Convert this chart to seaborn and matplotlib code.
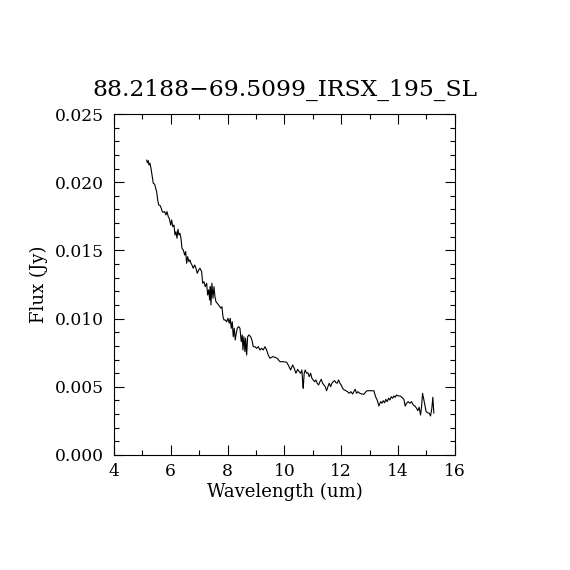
import pandas as pd
import matplotlib
matplotlib.use("Agg")
import matplotlib.pyplot as plt
from matplotlib.ticker import MultipleLocator
import seaborn as sns

title = "88.2188\u221269.5099_IRSX_195_SL"

wavelength = [
    5.151, 5.172, 5.207, 5.232, 5.267, 5.302, 5.337, 5.362, 5.383, 5.432,
    5.453, 5.502, 5.538, 5.573, 5.619, 5.664, 5.700, 5.735, 5.784, 5.830,
    5.865, 5.911, 5.946, 5.995, 6.030, 6.066, 6.111, 6.146, 6.182, 6.217,
    6.252, 6.287, 6.322, 6.358, 6.393, 6.439, 6.488, 6.523, 6.558, 6.593,
    6.639, 6.674, 6.710, 6.745, 6.790, 6.840, 6.885, 6.931, 6.980, 7.026,
    7.086, 7.121, 7.167, 7.213, 7.262, 7.297, 7.332, 7.368, 7.389, 7.413,
    7.448, 7.484, 7.519, 7.554, 7.589, 7.635, 7.684, 7.730, 7.765, 7.800,
    7.836, 7.871, 7.917, 7.966, 8.012, 8.057, 8.092, 8.128, 8.163, 8.198,
    8.233, 8.268, 8.304, 8.339, 8.388, 8.434, 8.479, 8.515, 8.539, 8.574,
    8.610, 8.634, 8.670, 8.705, 8.751, 8.810, 8.856, 8.902, 8.962, 9.021,
    9.078, 9.138, 9.197, 9.254, 9.314, 9.373, 9.430, 9.490, 9.585, 9.665,
    9.746, 9.841, 9.957, 10.077, 10.133, 10.218, 10.288, 10.344, 10.404, 10.464,
    10.520, 10.570, 10.615, 10.640, 10.661, 10.696, 10.731, 10.781, 10.827, 10.873,
    10.922, 10.968, 11.014, 11.063, 11.108, 11.154, 11.203, 11.249, 11.295, 11.344,
    11.390, 11.436, 11.485, 11.531, 11.577, 11.626, 11.671, 11.717, 11.766, 11.812,
    11.858, 11.907, 11.953, 11.999, 12.048, 12.104, 12.164, 12.224, 12.280, 12.340,
    12.400, 12.445, 12.491, 12.540, 12.586, 12.656, 12.727, 12.797, 12.868, 12.913,
    13.008, 13.149, 13.209, 13.265, 13.325, 13.385, 13.431, 13.476, 13.526, 13.571,
    13.617, 13.666, 13.712, 13.758, 13.807, 13.853, 13.898, 13.948, 13.994, 14.064,
    14.134, 14.205, 14.251, 14.300, 14.356, 14.416, 14.476, 14.532, 14.592, 14.652,
    14.697, 14.743, 14.792, 14.828, 14.863, 14.898, 14.944, 14.990, 15.039, 15.095,
    15.144, 15.190, 15.225, 15.260,
]

flux = [
    0.02163, 0.02143, 0.02158, 0.02126, 0.02139, 0.02102, 0.02053, 0.02016, 0.01992, 0.01985,
    0.01967, 0.01930, 0.01870, 0.01833, 0.01830, 0.01809, 0.01784, 0.01779, 0.01784, 0.01760,
    0.01784, 0.01747, 0.01735, 0.01686, 0.01723, 0.01674, 0.01686, 0.01613, 0.01637, 0.01589,
    0.01655, 0.01613, 0.01625, 0.01589, 0.01515, 0.01503, 0.01466, 0.01491, 0.01405, 0.01454,
    0.01417, 0.01430, 0.01405, 0.01393, 0.01369, 0.01393, 0.01369, 0.01332, 0.01356, 0.01369,
    0.01344, 0.01259, 0.01271, 0.01234, 0.01259, 0.01173, 0.01210, 0.01136, 0.01234, 0.01100,
    0.01259, 0.01149, 0.01234, 0.01161, 0.01124, 0.01112, 0.01100, 0.01087, 0.01076, 0.01087,
    0.01014, 0.00990, 0.00990, 0.00977, 0.01002, 0.00966, 0.01002, 0.00929, 0.00977, 0.00867,
    0.00929, 0.00843, 0.00892, 0.00929, 0.00941, 0.00929, 0.00831, 0.00880, 0.00770, 0.00867,
    0.00757, 0.00856, 0.00733, 0.00867, 0.00880, 0.00867, 0.00843, 0.00794, 0.00794, 0.00782,
    0.00794, 0.00770, 0.00782, 0.00770, 0.00794, 0.00770, 0.00733, 0.00709, 0.00721, 0.00716,
    0.00709, 0.00684, 0.00684, 0.00680, 0.00660, 0.00623, 0.00660, 0.00636, 0.00599, 0.00628,
    0.00611, 0.00599, 0.00623, 0.00537, 0.00489, 0.00599, 0.00623, 0.00599, 0.00603, 0.00574,
    0.00599, 0.00562, 0.00550, 0.00537, 0.00550, 0.00526, 0.00513, 0.00537, 0.00555, 0.00526,
    0.00513, 0.00501, 0.00471, 0.00501, 0.00526, 0.00501, 0.00526, 0.00537, 0.00545, 0.00530,
    0.00526, 0.00550, 0.00526, 0.00513, 0.00489, 0.00477, 0.00471, 0.00464, 0.00452, 0.00464,
    0.00447, 0.00464, 0.00482, 0.00452, 0.00464, 0.00452, 0.00447, 0.00445, 0.00464, 0.00471,
    0.00471, 0.00471, 0.00427, 0.00403, 0.00359, 0.00391, 0.00379, 0.00398, 0.00383, 0.00408,
    0.00391, 0.00416, 0.00403, 0.00427, 0.00416, 0.00433, 0.00423, 0.00440, 0.00433, 0.00433,
    0.00423, 0.00408, 0.00359, 0.00379, 0.00391, 0.00379, 0.00391, 0.00367, 0.00359, 0.00342,
    0.00325, 0.00350, 0.00293, 0.00354, 0.00452, 0.00416, 0.00367, 0.00317, 0.00310, 0.00306,
    0.00286, 0.00342, 0.00423, 0.00306,
]

df = pd.DataFrame({"wavelength": wavelength, "flux": flux})

sns.set_theme(style="white")
plt.rcParams["font.family"] = ["DejaVu Serif"]

fig = plt.figure(figsize=(5.7, 5.7), dpi=100)
ax = fig.add_axes([0.2, 0.2018, 0.598, 0.5982])

sns.lineplot(data=df, x="wavelength", y="flux", ax=ax, color="black",
             linewidth=0.8, estimator=None, sort=False)

ax.set_xlim(4, 16)
ax.set_ylim(0, 0.025)
ax.xaxis.set_major_locator(MultipleLocator(2))
ax.xaxis.set_minor_locator(MultipleLocator(1))
ax.yaxis.set_major_locator(MultipleLocator(0.005))
ax.yaxis.set_minor_locator(MultipleLocator(0.001))
ax.yaxis.set_major_formatter(matplotlib.ticker.FormatStrFormatter("%.3f"))

ax.tick_params(which="both", direction="in", top=True, right=True,
               bottom=True, left=True, color="black", width=0.8,
               labelsize=12.3, labelcolor="black")
ax.tick_params(which="major", length=7)
ax.tick_params(which="minor", length=3.5)
ax.tick_params(axis="x", pad=6)
ax.tick_params(axis="y", pad=7)

for s in ax.spines.values():
    s.set_color("black")
    s.set_linewidth(0.8)

ax.set_xlabel("Wavelength (um)", fontsize=13, color="black", labelpad=2)
ax.set_ylabel("Flux (Jy)", fontsize=13, color="black", labelpad=5)
ax.set_title(title, fontsize=16.8, color="black", pad=13)

fig.savefig("out.png", dpi=100, facecolor="white")
